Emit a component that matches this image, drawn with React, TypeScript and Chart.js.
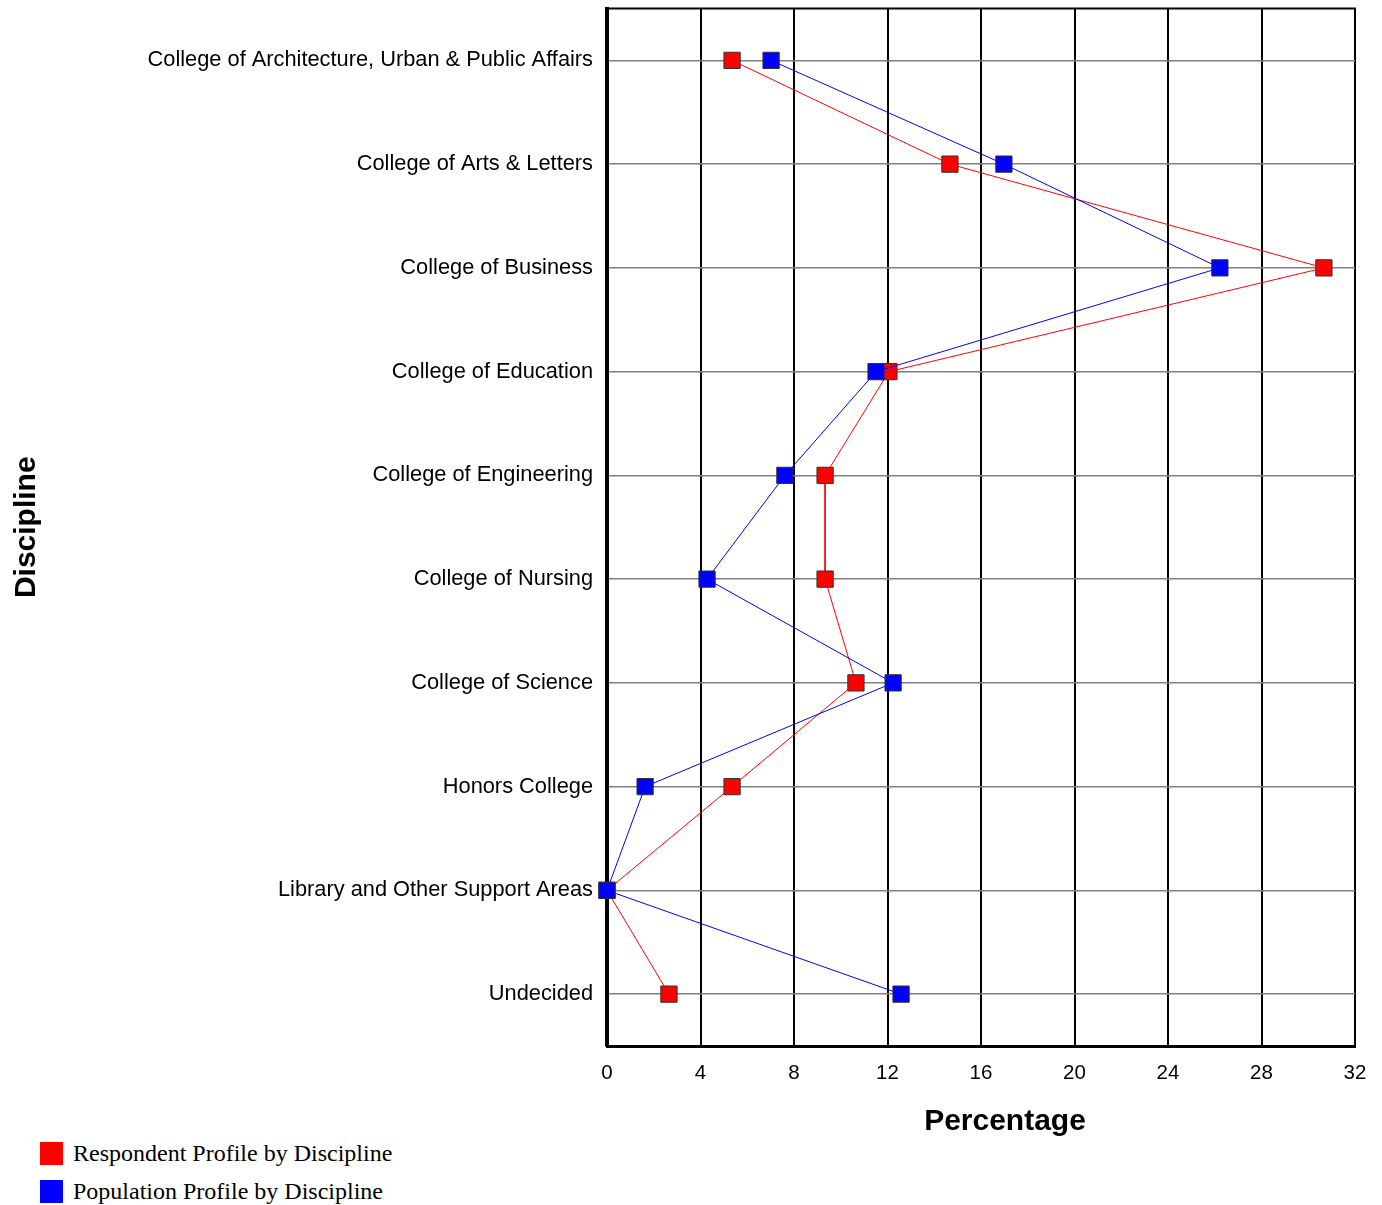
import React, { useEffect, useRef } from "react";
import { Chart, registerables } from "chart.js";

Chart.register(...registerables);

const categories = [
  "College of Architecture, Urban & Public Affairs",
  "College of Arts & Letters",
  "College of Business",
  "College of Education",
  "College of Engineering",
  "College of Nursing",
  "College of Science",
  "Honors College",
  "Library and Other Support Areas",
  "Undecided",
];

const respondentValues = [5.35, 14.67, 30.67, 12.06, 9.33, 9.33, 10.65, 5.35, 0, 2.65];
const populationValues = [7.02, 16.98, 26.22, 11.51, 7.61, 4.28, 12.24, 1.63, 0, 12.58];

const xTicks = [0, 4, 8, 12, 16, 20, 24, 28, 32];

const seriesNames = ["Respondent Profile by Discipline", "Population Profile by Discipline"];
const seriesColors = ["#ff0000", "#0000ff"];

const CANVAS_SHIFT = 4;

const frameBorder = {
  id: "frameBorder",
  afterDraw(chart: any) {
    const { ctx, chartArea } = chart;
    ctx.save();
    ctx.strokeStyle = "#000";
    ctx.lineWidth = 2;
    ctx.beginPath();
    ctx.moveTo(chartArea.left, chartArea.top);
    ctx.lineTo(chartArea.right + 1, chartArea.top);
    ctx.stroke();
    ctx.fillStyle = "#000";
    ctx.font = "bold 30px 'Liberation Sans', Arial, sans-serif";
    ctx.textAlign = "center";
    ctx.textBaseline = "middle";
    ctx.fillText("Percentage", 1005, 1122 + CANVAS_SHIFT);
    ctx.restore();
  },
};

export default function App() {
  const ref = useRef<HTMLCanvasElement>(null);
  useEffect(() => {
    if (!ref.current) return;
    const chart = new Chart(ref.current, {
      type: "line",
      data: {
        labels: categories,
        datasets: [
          {
            label: seriesNames[0],
            data: respondentValues,
            borderColor: seriesColors[0],
            backgroundColor: seriesColors[0],
            borderWidth: 1,
            pointStyle: "rect",
            pointRadius: 11.5,
            pointBorderColor: "#333333",
            pointBorderWidth: 1,
            order: 1,
            clip: false,
          },
          {
            label: seriesNames[1],
            data: populationValues,
            borderColor: seriesColors[1],
            backgroundColor: seriesColors[1],
            borderWidth: 1,
            pointStyle: "rect",
            pointRadius: 11.5,
            pointBorderColor: "#333333",
            pointBorderWidth: 1,
            order: 0,
            clip: false,
          },
        ],
      },
      options: {
        indexAxis: "y",
        animation: false,
        responsive: false,
        devicePixelRatio: 1,
        layout: { padding: { top: 4, right: 27, left: 0, bottom: 0 } },
        plugins: { legend: { display: false }, tooltip: { enabled: false } },
        scales: {
          x: {
            type: "linear",
            min: 0,
            max: 32,
            afterBuildTicks: (scale: any) => {
              scale.ticks = xTicks.map((v) => ({ value: v }));
            },
            afterFit: (scale: any) => {
              scale.height = 94;
              scale.paddingLeft = 0;
              scale.paddingRight = 0;
            },
            ticks: {
              color: "#000",
              font: { family: "'Liberation Sans', Arial, sans-serif", size: 20.5 },
              padding: 15,
            },
            grid: { color: "#000", lineWidth: 2, drawTicks: false },
            border: { color: "#000", width: 3 },
            title: { display: false },
          },
          y: {
            type: "category",
            offset: true,
            afterFit: (scale: any) => {
              scale.width = 607;
              scale.paddingTop = 0;
              scale.paddingBottom = 0;
            },
            ticks: {
              color: "#000",
              font: { family: "'Liberation Sans', Arial, sans-serif", size: 21.8 },
              padding: 14,
            },
            grid: { color: "#808080", lineWidth: 1.5, drawTicks: false, offset: false },
            border: { color: "#000", width: 4 },
            title: {
              display: true,
              text: "Discipline",
              color: "#000",
              font: { family: "'Liberation Sans', Arial, sans-serif", size: 30, weight: "bold" },
              padding: { top: 9, bottom: 0 },
            },
          },
        },
      },
      plugins: [frameBorder],
    });
    return () => chart.destroy();
  }, []);

  return (
    <div style={{ position: "absolute", left: 0, top: 0, width: 1382, height: 1205, background: "#fff", overflow: "hidden" }}>
      <canvas
        ref={ref}
        width={1382}
        height={1140 + CANVAS_SHIFT}
        style={{ position: "absolute", left: 0, top: -CANVAS_SHIFT, display: "block", width: 1382, height: 1140 + CANVAS_SHIFT }}
      />
      {seriesNames.map((name, i) => (
        <div
          key={name}
          style={{
            position: "absolute",
            left: 40,
            top: 1141 + i * 38,
            height: 24,
            display: "flex",
            alignItems: "center",
            fontFamily: "'Liberation Serif', 'Times New Roman', serif",
            fontSize: 24,
            color: "#000",
            whiteSpace: "nowrap",
          }}
        >
          <span style={{ display: "inline-block", width: 23, height: 23, background: seriesColors[i], marginRight: 10 }} />
          {name}
        </div>
      ))}
    </div>
  );
}
